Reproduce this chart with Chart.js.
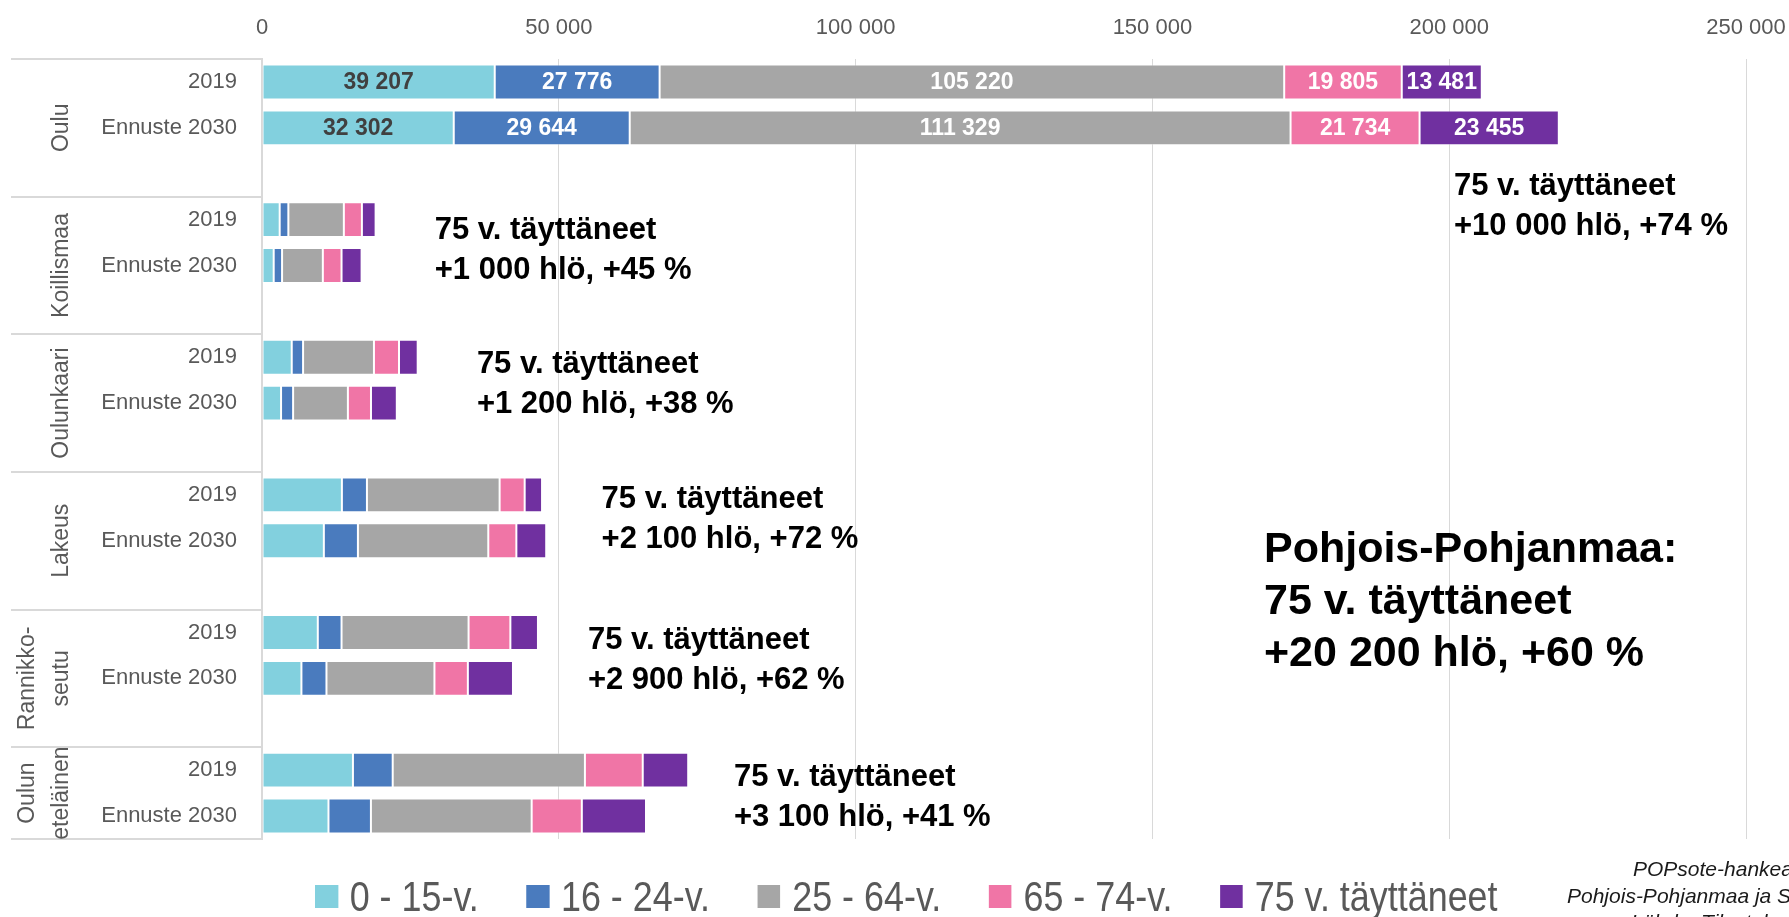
<!DOCTYPE html>
<html lang="fi">
<head>
<meta charset="utf-8">
<title>75 v. täyttäneet – Pohjois-Pohjanmaa</title>
<script src="https://cdn.jsdelivr.net/npm/chart.js@4"></script>
<style>
    html, body {
        margin: 0;
        padding: 0;
        background: #ffffff;
        overflow: hidden;
    }
    #wrap {
        position: relative;
        width: 1789px;
        height: 917px;
        overflow: hidden;
    }
    /* narrow look of the legend: plain Liberation Sans squeezed sideways */
    #legend {
        position: absolute;
        left: 315px;
        top: 872px;
        display: flex;
        align-items: center;
        font-family: 'Liberation Sans', Arial, sans-serif;
        font-size: 43px;
        color: #595959;
        white-space: nowrap;
        line-height: 48px;
        transform: scaleX(0.835);
        transform-origin: 0 0;
    }
    #legend .item {
        display: flex;
        align-items: center;
        margin-right: 57px;
    }
    #legend .box {
        width: 27.5px;
        height: 23px;
        margin-right: 14px;
    }
    .src {
        position: absolute;
        font-family: 'Liberation Sans', Arial, sans-serif;
        font-style: italic;
        font-size: 21px;
        color: #1a1a1a;
        white-space: nowrap;
    }
</style>
</head>
<body>
<div id="wrap">
    <canvas id="ageChart"></canvas>
    <div id="legend"></div>
    <div class="src" style="left:1633px; top:857px;">POPsote-hankea</div>
    <div class="src" style="left:1567px; top:884px;">Pohjois-Pohjanmaa ja S</div>
    <div class="src" style="left:1631px; top:910px;">Lähde: Tilastokeskus</div>
</div>

<script>
// --- data, each region: [2019, Ennuste 2030] ---
const regions = ['Oulu', 'Koillismaa', 'Oulunkaari', 'Lakeus', 'Rannikko-seutu', 'Oulun eteläinen'];
const regionLines = [['Oulu'], ['Koillismaa'], ['Oulunkaari'], ['Lakeus'], ['Rannikko-', 'seutu'], ['Oulun', 'eteläinen']];
const years = ['2019', 'Ennuste 2030'];
const ageGroups = ['0 - 15-v.', '16 - 24-v.', '25 - 64-v.', '65 - 74-v.', '75 v. täyttäneet'];

const age0to15  = [39207, 32302,  2980, 1970,  5010, 3210,  13460, 10420,   9400,  6640,  15320, 11200];
const age16to24 = [27776, 29644,  1460, 1410,  1910, 2030,   4220,  5740,   4000,  4220,   6700,  7150];
const age25to64 = [105220, 111329, 9350, 6870, 11940, 9230, 22350, 21960,  21400, 18190,  32380, 27080];
const age65to74 = [19805, 21734,  3040, 3150,  4220, 3890,   4220,  4730,   7040,  5630,   9740,  8450];
const age75plus = [13481, 23455,  2310, 3380,  3150, 4350,   2930,  5030,   4650,  7600,   7660, 10810];

const xTicks = [0, 50000, 100000, 150000, 200000, 250000];

const noteTitle = '75 v. täyttäneet';
const noteChange = ['+10 000 hlö, +74 %', '+1 000 hlö, +45 %', '+1 200 hlö, +38 %',
                    '+2 100 hlö, +72 %', '+2 900 hlö, +62 %', '+3 100 hlö, +41 %'];
const summaryLines = ['Pohjois-Pohjanmaa:', '75 v. täyttäneet', '+20 200 hlö, +60 %'];

// --- styles ---
const ageColors = ['#82d0de', '#4a7bbe', '#a6a6a6', '#f075a6', '#7030a0'];
const labelColors = ['#404040', '#ffffff', '#ffffff', '#ffffff', '#ffffff'];
const axisGray = '#595959';
const lineGray = '#d9d9d9';

// where the notes sit: x in persons, row in category rows from the top
const notePlacement = [
    { x: 200800, row: 2.78 },
    { x: 29100, row: 3.74 },
    { x: 36200, row: 6.65 },
    { x: 57200, row: 9.59 },
    { x: 54900, row: 12.67 },
    { x: 79500, row: 15.66 }
];
const summaryPlacement = { x: 168800, row: 10.7 };

// build the 17 category rows: two years per region, blank row between regions
const rowLabels = [];
const rowRegion = [];
regions.forEach((r, i) => {
    years.forEach(y => { rowLabels.push(y); rowRegion.push(i); });
    if (i < regions.length - 1) { rowLabels.push(''); rowRegion.push(-1); }
});

function toRows(values) {
    const out = [];
    regions.forEach((r, i) => {
        out.push(values[i * 2], values[i * 2 + 1]);
        if (i < regions.length - 1) out.push(null);
    });
    return out;
}

const ageSeries = [age0to15, age16to24, age25to64, age65to74, age75plus];

function formatNumber(v) {
    return String(Math.round(v)).replace(/\B(?=(\d{3})+(?!\d))/g, ' ');
}

// legend as html
const legendEl = document.getElementById('legend');
ageGroups.forEach((name, i) => {
    const item = document.createElement('div');
    item.className = 'item';
    item.innerHTML = '<div class="box" style="background:' + ageColors[i] + '"></div><span>' + name + '</span>';
    legendEl.appendChild(item);
});

Chart.defaults.font.family = "'Liberation Sans', Arial, sans-serif";
Chart.defaults.color = axisGray;

function rowTop(chart, row) {
    const y = chart.scales.y;
    const h = (y.bottom - y.top) / rowLabels.length;
    return y.top + row * h;
}

// group labels on the left + separator lines
const groupAxisPlugin = {
    id: 'groupAxis',
    afterDraw(chart) {
        const ctx = chart.ctx;
        const area = chart.chartArea;
        ctx.save();
        ctx.strokeStyle = lineGray;
        ctx.lineWidth = 2;
        let start = 0;
        const bounds = [];
        regions.forEach((r, i) => {
            const n = (i < regions.length - 1) ? 3 : 2;
            bounds.push([start, start + n]);
            start += n;
        });
        bounds.forEach(b => {
            const y = Math.round(rowTop(chart, b[0]));
            ctx.beginPath();
            ctx.moveTo(11, y);
            ctx.lineTo(area.left, y);
            ctx.stroke();
        });
        const yEnd = Math.round(rowTop(chart, start));
        ctx.beginPath();
        ctx.moveTo(11, yEnd);
        ctx.lineTo(area.left, yEnd);
        ctx.stroke();

        ctx.beginPath();
        ctx.rect(0, area.top, area.left, area.bottom - area.top);
        ctx.clip();
        ctx.fillStyle = axisGray;
        ctx.font = "23px 'Liberation Sans', Arial, sans-serif";
        ctx.textAlign = 'center';
        ctx.textBaseline = 'alphabetic';
        bounds.forEach((b, i) => {
            const yc = (rowTop(chart, b[0]) + rowTop(chart, b[1])) / 2;
            const lines = regionLines[i];
            lines.forEach((line, k) => {
                const xb = 68 - (lines.length - 1 - k) * 34;
                ctx.save();
                ctx.translate(xb, yc);
                ctx.rotate(-Math.PI / 2);
                ctx.fillText(line, 0, 0);
                ctx.restore();
            });
        });
        ctx.restore();
    }
};

// values inside the Oulu bars
const barLabelPlugin = {
    id: 'barLabels',
    afterDatasetsDraw(chart) {
        const ctx = chart.ctx;
        ctx.save();
        ctx.font = "bold 23px 'Liberation Sans', Arial, sans-serif";
        ctx.textAlign = 'center';
        ctx.textBaseline = 'middle';
        chart.data.datasets.forEach((ds, di) => {
            const meta = chart.getDatasetMeta(di);
            meta.data.forEach((el, idx) => {
                const v = ds.data[idx];
                if (v == null || rowRegion[idx] !== 0) return;
                ctx.fillStyle = labelColors[di];
                ctx.fillText(formatNumber(v), (el.x + el.base) / 2, el.y + 1);
            });
        });
        ctx.restore();
    }
};

// the bold notes
const notePlugin = {
    id: 'notes',
    afterDatasetsDraw(chart) {
        const ctx = chart.ctx;
        const xs = chart.scales.x;
        ctx.save();
        ctx.fillStyle = '#000000';
        ctx.textAlign = 'left';
        ctx.textBaseline = 'middle';
        ctx.font = "bold 31px 'Liberation Sans', Arial, sans-serif";
        notePlacement.forEach((p, i) => {
            const x = xs.getPixelForValue(p.x);
            const y = rowTop(chart, p.row);
            ctx.fillText(noteTitle, x, y);
            ctx.fillText(noteChange[i], x, y + 40);
        });
        ctx.font = "bold 43px 'Liberation Sans', Arial, sans-serif";
        const sx = xs.getPixelForValue(summaryPlacement.x);
        const sy = rowTop(chart, summaryPlacement.row);
        summaryLines.forEach((line, k) => {
            ctx.fillText(line, sx, sy + k * 52);
        });
        ctx.restore();
    }
};

const canvas = document.getElementById('ageChart');
const ctx = canvas.getContext('2d');

new Chart(ctx, {
    type: 'bar',
    data: {
        labels: rowLabels,
        datasets: ageGroups.map((name, i) => ({
            label: name,
            data: toRows(ageSeries[i]),
            backgroundColor: ageColors[i],
            borderColor: 'rgba(255, 255, 255, 0.45)',
            borderWidth: 1,
            borderSkipped: false,
            barPercentage: 0.76,
            categoryPercentage: 1.0
        }))
    },
    options: {
        indexAxis: 'y',
        responsive: true,
        maintainAspectRatio: false,
        animation: false,
        layout: {
            padding: { top: 0, left: 0, right: 43, bottom: 78 }
        },
        plugins: {
            legend: { display: false },
            tooltip: { enabled: false }
        },
        scales: {
            x: {
                position: 'top',
                stacked: true,
                min: 0,
                max: 250000,
                afterBuildTicks: function(scale) {
                    scale.ticks = xTicks.map(v => ({ value: v }));
                },
                afterFit: function(scale) {
                    scale.height = 59;
                    scale.paddingLeft = 0;
                    scale.paddingRight = 0;
                },
                grid: {
                    color: lineGray,
                    lineWidth: 1,
                    drawTicks: false
                },
                border: { display: false },
                ticks: {
                    padding: 18,
                    color: axisGray,
                    font: { size: 22 },
                    callback: function(value) {
                        return formatNumber(value);
                    }
                }
            },
            y: {
                stacked: true,
                afterFit: function(scale) {
                    scale.width = 262;
                },
                grid: { display: false, drawTicks: false },
                border: { display: true, color: lineGray, width: 2 },
                ticks: {
                    padding: 25,
                    color: axisGray,
                    autoSkip: false,
                    font: { size: 22 }
                }
            }
        }
    },
    plugins: [groupAxisPlugin, barLabelPlugin, notePlugin]
});
</script>
</body>
</html>
